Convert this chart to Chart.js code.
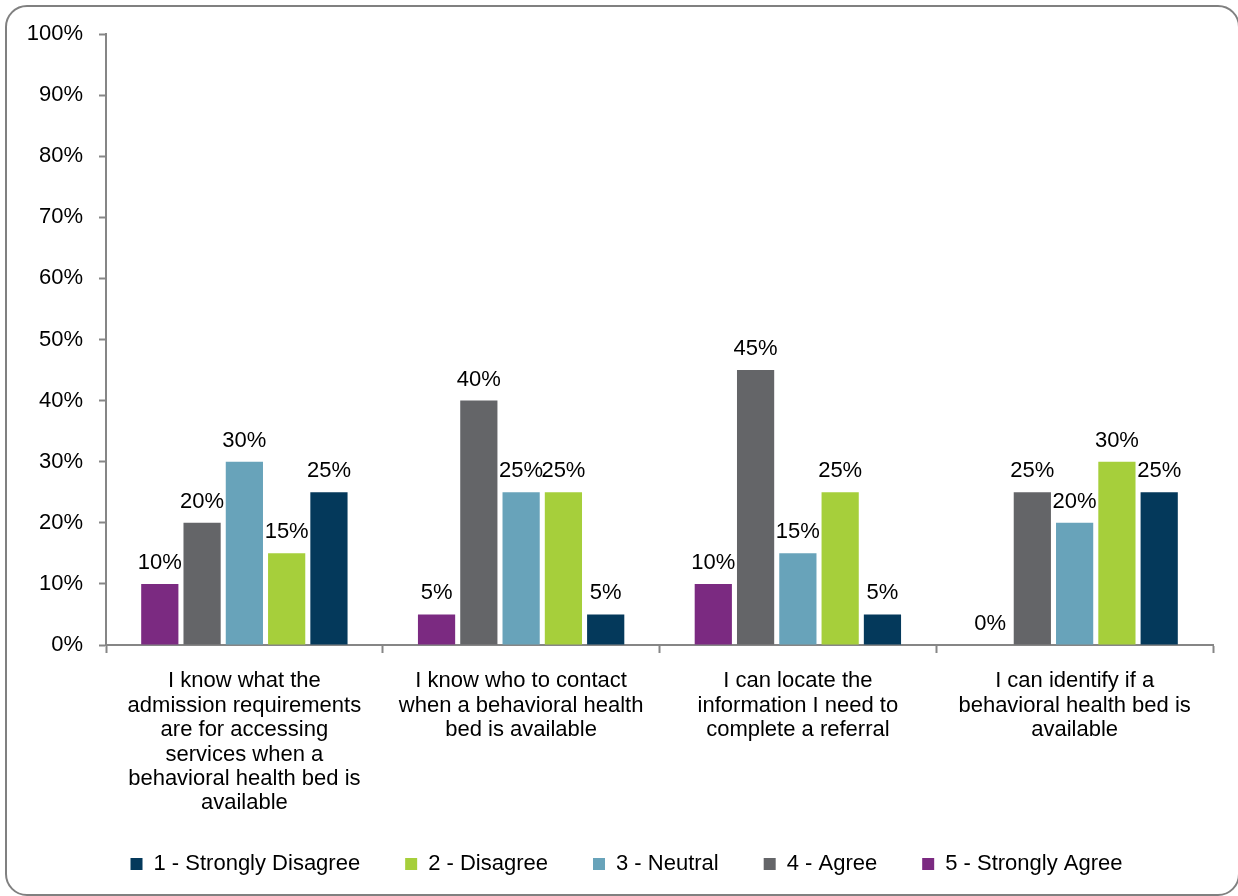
<!DOCTYPE html>
<html>
<head>
<meta charset="utf-8">
<title>Behavioral health bed availability – survey responses</title>
<script src="https://cdn.jsdelivr.net/npm/chart.js"></script>
<style>
  html, body { margin: 0; padding: 0; background: #ffffff; overflow: hidden; width: 1238px; height: 896px; }
  #wrap { position: absolute; left: 0; top: 0; width: 1238px; height: 892px; }
  #frame { position: absolute; left: 5px; top: 5px; width: 1235px; height: 891px; box-sizing: border-box;
           border: 2px solid #808080; border-radius: 22px; pointer-events: none; }
</style>
</head>
<body>
<div id="wrap"><canvas id="chart" width="1238" height="892"></canvas></div>
<div id="frame"></div>
<script>
// Survey statements (wrapped into lines for the category axis)
const categories = [
  ["I know what the", "admission requirements", "are for accessing", "services when a", "behavioral health bed is", "available"],
  ["I know who to contact", "when a behavioral health", "bed is available"],
  ["I can locate the", "information I need to", "complete a referral"],
  ["I can identify if a", "behavioral health bed is", "available"]
];

// Share of respondents (%) per answer, one value per statement
const stronglyAgree    = [10, 5, 10, 0];
const agree            = [20, 40, 45, 25];
const neutral          = [30, 25, 15, 20];
const disagree         = [15, 25, 25, 30];
const stronglyDisagree = [25, 5, 5, 25];

const seriesNames  = ["5 - Strongly Agree", "4 - Agree", "3 - Neutral", "2 - Disagree", "1 - Strongly Disagree"];
const seriesValues = [stronglyAgree, agree, neutral, disagree, stronglyDisagree];
const seriesColors = ["#7b2a81", "#646568", "#68a3ba", "#a6cf3b", "#04395b"];

// Percentage axis
const yMin = 0, yMax = 100, yStep = 10;

const FONT = '"Liberation Sans", Arial, Helvetica, sans-serif';
const AXIS_GREY = "#868686";

Chart.defaults.font.family = FONT;
Chart.defaults.color = "#000000";

// Writes each bar's value above it
const valueLabels = {
  id: "valueLabels",
  afterDatasetsDraw(chart) {
    const ctx = chart.ctx;
    ctx.save();
    ctx.font = "22px " + FONT;
    ctx.fillStyle = "#000000";
    ctx.textAlign = "center";
    ctx.textBaseline = "alphabetic";
    chart.data.datasets.forEach((ds, i) => {
      const meta = chart.getDatasetMeta(i);
      meta.data.forEach((bar, j) => {
        ctx.fillText(ds.data[j] + "%", bar.x, bar.y - 15);
      });
    });
    ctx.restore();
  }
};

// Nudges the legend row: centred under the categories, a little tighter to the axis labels
const legendOffset = {
  id: "legendOffset",
  afterLayout(chart) {
    const lg = chart.legend;
    if (lg) {
      lg.left += 20;
      lg.right += 20;
      lg.top -= 7;
      lg.bottom -= 7;
    }
  }
};

new Chart(document.getElementById("chart"), {
  type: "bar",
  data: {
    labels: categories,
    datasets: seriesNames.map((name, i) => ({
      label: name,
      data: seriesValues[i],
      backgroundColor: seriesColors[i],
      borderWidth: 0,
      categoryPercentage: 0.764,
      barPercentage: 0.88
    }))
  },
  options: {
    responsive: false,
    animation: false,
    devicePixelRatio: 1,
    layout: { padding: { left: 0, right: 25, top: 34, bottom: 0 } },
    plugins: {
      legend: {
        position: "bottom",
        reverse: true,
        labels: {
          boxWidth: 12,
          boxHeight: 12,
          padding: 45,
          color: "#000000",
          font: { family: FONT, size: 22 }
        }
      },
      tooltip: { enabled: false }
    },
    scales: {
      x: {
        grid: {
          display: true,
          drawOnChartArea: false,
          drawTicks: true,
          tickLength: 8,
          tickWidth: 2,
          tickColor: AXIS_GREY,
          offset: true
        },
        border: { display: true, color: AXIS_GREY, width: 2 },
        ticks: {
          color: "#000000",
          font: { family: FONT, size: 22, lineHeight: 1.11 },
          padding: 16,
          maxRotation: 0,
          minRotation: 0,
          autoSkip: false
        },
        afterFit(scale) { scale.height = 170; }
      },
      y: {
        min: yMin,
        max: yMax,
        ticks: {
          stepSize: yStep,
          callback: (v) => v + "%",
          color: "#000000",
          font: { family: FONT, size: 22 },
          padding: 16
        },
        grid: {
          drawOnChartArea: false,
          drawTicks: true,
          tickLength: 7,
          tickWidth: 2,
          tickColor: AXIS_GREY
        },
        border: { display: true, color: AXIS_GREY, width: 2 },
        afterFit(scale) { scale.width = 106; }
      }
    }
  },
  plugins: [valueLabels, legendOffset]
});
</script>
</body>
</html>
